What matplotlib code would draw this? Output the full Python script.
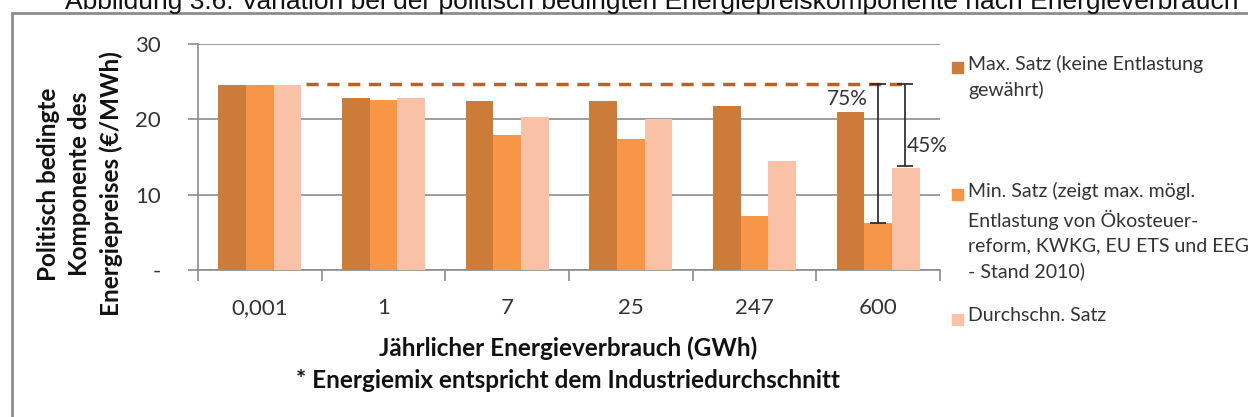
import matplotlib
matplotlib.use("Agg")
from matplotlib import pyplot as plt
from matplotlib.patches import Rectangle
import numpy as np

plt.rcParams['font.family'] = ['Lato', 'DejaVu Sans']

# Data
categories = ['0,001', '1', '7', '25', '247', '600']
max_satz = [24.5, 22.8, 22.5, 22.5, 21.8, 21.0]
min_satz = [24.5, 22.6, 17.9, 17.4, 7.2, 6.2]
avg_satz = [24.5, 22.8, 20.3, 20.0, 14.5, 13.5]
ref_level = 24.7
pct_labels = ['75%', '45%']

series_labels = ['Max. Satz (keine Entlastung\ngewährt)',
                 'Min. Satz (zeigt max. mögl.\nEntlastung von Ökosteuer-\nreform, KWKG, EU ETS und EEG\n- Stand 2010)',
                 'Durchschn. Satz']
colors = ['#CC7B38', '#F79646', '#F9C1A5']

fig = plt.figure(figsize=(12.48, 4.17), dpi=100)

# outer frame and caption (cut off at the top as in the source)
fig.patches.append(Rectangle((12/1248, -0.1), 2, 1 - 13/417 + 0.1, transform=fig.transFigure,
                             fill=False, edgecolor='#8C8C8C', linewidth=2))
fig.text(652/1248, 1 - 9/417, 'Abbildung 3.6: Variation bei der politisch bedingten Energiepreiskomponente nach Energieverbrauch',
         family='Liberation Sans', fontsize=19, ha='center', va='baseline', color='#111111')

ax = fig.add_axes([198/1248, 1 - 270/417, 742/1248, 226/417])

x = np.arange(len(categories))
w = 0.223
for i, vals in enumerate([max_satz, min_satz, avg_satz]):
    ax.bar(x + (i - 1) * w, vals, w, color=colors[i], zorder=3)

ax.set_xlim(-0.5, 5.5)
ax.set_ylim(0, 30)
ax.set_yticks([0, 10, 20, 30])
ax.set_yticklabels(['-', '10', '20', '30'], fontsize=16, color='#333333')
ax.yaxis.grid(True, color='#8C8C8C', linewidth=1.2, zorder=0)
ax.set_xticks(np.arange(-0.5, 6, 1))
ax.set_xticklabels([])
ax.set_xticks(x, minor=True)
ax.set_xticklabels(categories, minor=True, fontsize=16, color='#333333')
ax.tick_params(axis='x', which='minor', length=0, pad=20)
ax.tick_params(axis='x', which='major', length=8, color='#8C8C8C', width=1.2)
ax.tick_params(axis='y', length=7, color='#8C8C8C', width=1.2, pad=20)
for s in ['top', 'right']:
    ax.spines[s].set_visible(False)
for s in ['left', 'bottom']:
    ax.spines[s].set_color('#8C8C8C')
    ax.spines[s].set_linewidth(1.2)

# reference dashed line at the unrelieved level
ax.plot([0.37, 5.25], [ref_level, ref_level], color='#C0601E', linewidth=2.5,
        linestyle=(0, (3.5, 2.5)), zorder=4)

# relief brackets for 600 GWh
last = len(categories) - 1
ax.errorbar([last, last + 0.22], [ref_level, ref_level],
            yerr=[[ref_level - min_satz[last], ref_level - avg_satz[last] - 0.3], [0, 0]],
            fmt='none', ecolor='#222222', elinewidth=1.2, capsize=6, capthick=1.2, zorder=5)
ax.text(last - 0.25, 22.7, pct_labels[0], fontsize=15, ha='center', va='center', color='#333333', zorder=6)
ax.text(last + 0.40, 16.4, pct_labels[1], fontsize=15, ha='center', va='center', color='#333333', zorder=6)

# axis titles
fig.text(568/1248, 1 - 348/417, 'Jährlicher Energieverbrauch (GWh)', fontsize=17.5, fontweight='bold',
         ha='center', va='center', color='#111111')
fig.text(568/1248, 1 - 381/417, '* Energiemix entspricht dem Industriedurchschnitt', fontsize=17.5,
         fontweight='bold', ha='center', va='center', color='#111111')
fig.text(80/1248, 1 - 184/417, 'Politisch bedingte\nKomponente des\nEnergiepreises (€/MWh)', fontsize=17.5,
         fontweight='bold', rotation=90, ha='center', va='center', multialignment='center',
         linespacing=1.4, color='#111111')

# legend
legend_y = [67, 194, 319]
for lab, col, yy in zip(series_labels, colors, legend_y):
    fig.patches.append(Rectangle((952/1248, 1 - (yy + 5.5)/417), 11/1248, 11/417,
                                 transform=fig.transFigure, color=col))
    fig.text(968/1248, 1 - (yy - 12)/417, lab, fontsize=14, ha='left', va='top',
             linespacing=1.55, color='#333333')

plt.savefig('out.png', dpi=100)
